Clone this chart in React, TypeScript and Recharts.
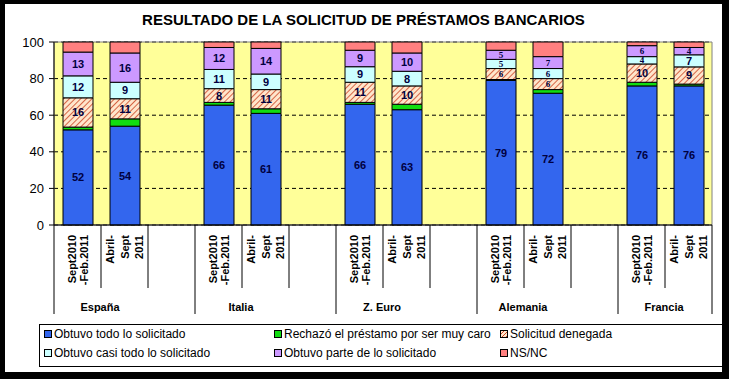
import React from 'react';
import {
  BarChart,
  Bar,
  XAxis,
  YAxis,
  CartesianGrid,
  LabelList,
  ReferenceArea,
} from 'recharts';

// categories
const countries = ['España', 'Italia', 'Z. Euro', 'Alemania', 'Francia'];
const periods = [['Sept2010', '-Feb.2011'], ['Abril-', 'Sept', '2011']];

// series values, one per bar (country x period)
const obtuvoTodo = [52, 54, 65.5, 61, 66, 63, 79, 72, 76, 76];
const rechazo = [1.5, 4, 1.5, 2.5, 1, 3, 0.5, 2, 2, 1];
const denegada = [16, 11, 7.5, 10.5, 11, 10, 6, 6, 10, 9.4];
const casiTodo = [12, 9, 10.5, 8.5, 8.5, 8, 5, 5.5, 4, 6.6];
const parte = [13, 16, 12, 14, 9, 10, 5, 6.5, 6, 4];
const nsnc = [5.5, 6, 3, 3.5, 4.5, 6, 4.5, 8, 2, 3];

const yTicks = [0, 20, 40, 60, 80, 100];

const series = [
  { key: 'todo', name: 'Obtuvo todo lo solicitado', color: '#3366EE', values: obtuvoTodo, label: true },
  { key: 'rechazo', name: 'Rechazó el préstamo por ser muy caro', color: '#11DD11', values: rechazo, label: false },
  { key: 'denegada', name: 'Solicitud denegada', color: 'url(#hatch)', values: denegada, label: true },
  { key: 'casi', name: 'Obtuvo casi todo lo solicitado', color: '#CCFFFF', values: casiTodo, label: true },
  { key: 'parte', name: 'Obtuvo parte de lo solicitado', color: '#CC99FF', values: parte, label: true },
  { key: 'nsnc', name: 'NS/NC', color: '#FF8080', values: nsnc, label: false },
];

// one slot per bar, plus an empty spacer slot after each country but the last
type Slot = { id: string; country: string; period: string[]; first: boolean; [k: string]: any };
const slots: Slot[] = [];
countries.forEach((c, ci) => {
  periods.forEach((p, pi) => {
    const row: Slot = { id: `${ci}-${pi}`, country: c, period: p, first: pi === 0 };
    series.forEach((s) => {
      row[s.key] = s.values[ci * 2 + pi];
    });
    slots.push(row);
  });
  if (ci < countries.length - 1) {
    slots.push({ id: `${ci}-gap`, country: c, period: [], first: false });
  }
});

const FONT = '"Liberation Sans", Arial, sans-serif';
const W = 717;
const H = 368;
const PLOT_LEFT = 49;
const PLOT_RIGHT = 707;
const PLOT_TOP = 38;
const PLOT_BOTTOM = 221;
const HALF = (PLOT_RIGHT - PLOT_LEFT) / slots.length / 2;

const SlotTick = (props: any) => {
  const { x, payload } = props;
  const i = payload.index;
  const slot = slots[i];
  const lines = slot.period;
  const step = lines.length > 2 ? 14.5 : 12;
  const start = -((lines.length - 1) * step) / 2;
  const last = i === slots.length - 1;
  const nextFirst = !last && slots[i + 1].first;
  return (
    <g>
      {lines.map((t, li) => (
        <text
          key={li}
          transform={`translate(${x + start + li * step}, ${PLOT_BOTTOM + 10}) rotate(-90)`}
          textAnchor="end"
          dominantBaseline="central"
          fontFamily={FONT}
          fontSize={11}
          fontWeight="bold"
          fill="#000"
        >
          {t}
        </text>
      ))}
      {slot.first && (
        <>
          <line x1={x - HALF} x2={x - HALF} y1={PLOT_BOTTOM} y2={PLOT_BOTTOM + 89} stroke="#000" />
          <text
            x={x - HALF + 46}
            y={PLOT_BOTTOM + 86}
            textAnchor="middle"
            fontFamily={FONT}
            fontSize={11}
            fontWeight="bold"
            fill="#000"
          >
            {slot.country}
          </text>
        </>
      )}
      {last ? (
        <line x1={x + HALF} x2={x + HALF} y1={PLOT_BOTTOM} y2={PLOT_BOTTOM + 89} stroke="#000" />
      ) : (
        !nextFirst && <line x1={x + HALF} x2={x + HALF} y1={PLOT_BOTTOM} y2={PLOT_BOTTOM + 63} stroke="#000" />
      )}
    </g>
  );
};

// segment value labels; thin segments get a smaller type so they stay inside
const SegmentLabel = (props: any) => {
  const { x, y, width, height, value } = props;
  if (value == null || !height) return null;
  const small = Math.abs(height) < 12;
  return (
    <text
      x={x + width / 2}
      y={y + height / 2}
      textAnchor="middle"
      dominantBaseline="central"
      fontFamily={small ? '"Liberation Serif", "Times New Roman", serif' : FONT}
      fontSize={small ? 9 : 11}
      fontWeight="bold"
      fill="#000040"
    >
      {Math.round(value)}
    </text>
  );
};

const hatchCss =
  'repeating-linear-gradient(-45deg, #CC4422 0px, #CC4422 1px, #FFE6CC 1px, #FFE6CC 3px)';

const legendPos = [
  { left: 4, top: 9 },
  { left: 234, top: 9 },
  { left: 460, top: 9 },
  { left: 4, top: 28 },
  { left: 234, top: 28 },
  { left: 460, top: 28 },
];

export default function App() {
  return (
    <div style={{ position: 'fixed', left: 0, top: 0, width: 729, height: 379, background: '#000' }}>
      <div
        style={{
          position: 'absolute',
          left: 5,
          top: 4,
          width: W,
          height: H,
          background: '#fff',
          overflow: 'hidden',
          fontFamily: FONT,
        }}
      >
        <div
          style={{
            position: 'absolute',
            left: 0,
            top: 7,
            width: W,
            textAlign: 'center',
            fontSize: 15,
            fontWeight: 'bold',
            lineHeight: '18px',
            color: '#000',
          }}
        >
          RESULTADO DE LA SOLICITUD DE PRÉSTAMOS BANCARIOS
        </div>
        <div style={{ position: 'absolute', left: 0, top: 0 }}>
          <BarChart
            width={W}
            height={H}
            data={slots}
            barSize={30}
            margin={{ top: PLOT_TOP, right: W - PLOT_RIGHT, bottom: H - PLOT_BOTTOM - 95, left: 0 }}
          >
            <defs>
              <pattern id="hatch" width="4" height="4" patternUnits="userSpaceOnUse" patternTransform="rotate(45)">
                <rect width="4" height="4" fill="#FFE6CC" />
                <line x1="0" y1="0" x2="0" y2="4" stroke="#CC4422" strokeWidth="1.6" />
              </pattern>
            </defs>
            <CartesianGrid vertical={false} fill="#FFFF99" stroke="#000" strokeDasharray="4 3" />
            <ReferenceArea y1={0} y2={100} fill="none" stroke="#808080" ifOverflow="visible" />
            <XAxis
              dataKey="id"
              interval={0}
              height={95}
              tickLine={false}
              axisLine={{ stroke: '#000' }}
              tick={(p: any) => <SlotTick {...p} />}
            />
            <YAxis
              width={PLOT_LEFT}
              domain={[0, 100]}
              ticks={yTicks}
              tickSize={5}
              tickMargin={5}
              tickLine={{ stroke: '#000' }}
              axisLine={{ stroke: '#000' }}
              tick={{ fontSize: 13, fill: '#000', fontFamily: FONT }}
            />
            {series.map((s) => (
              <Bar
                key={s.key}
                dataKey={s.key}
                stackId="a"
                fill={s.color}
                stroke="#000"
                strokeWidth={1}
                isAnimationActive={false}
              >
                {s.label && <LabelList dataKey={s.key} content={(p: any) => <SegmentLabel {...p} />} />}
              </Bar>
            ))}
          </BarChart>
        </div>
        <div
          style={{
            position: 'absolute',
            left: 34,
            top: 320,
            width: 720,
            height: 41,
            border: '1px solid #000',
            fontSize: 12,
            color: '#000',
          }}
        >
          {series.map((s, i) => (
            <div
              key={s.key}
              style={{
                position: 'absolute',
                left: legendPos[i].left,
                top: legendPos[i].top - 7,
                height: 14,
                lineHeight: '14px',
                whiteSpace: 'nowrap',
              }}
            >
              <span
                style={{
                  display: 'inline-block',
                  width: 6,
                  height: 6,
                  border: '1px solid #000',
                  background: s.key === 'denegada' ? hatchCss : s.color,
                  marginRight: 2,
                  verticalAlign: 'middle',
                  position: 'relative',
                  top: -1,
                }}
              />
              {s.name}
            </div>
          ))}
        </div>
      </div>
    </div>
  );
}
